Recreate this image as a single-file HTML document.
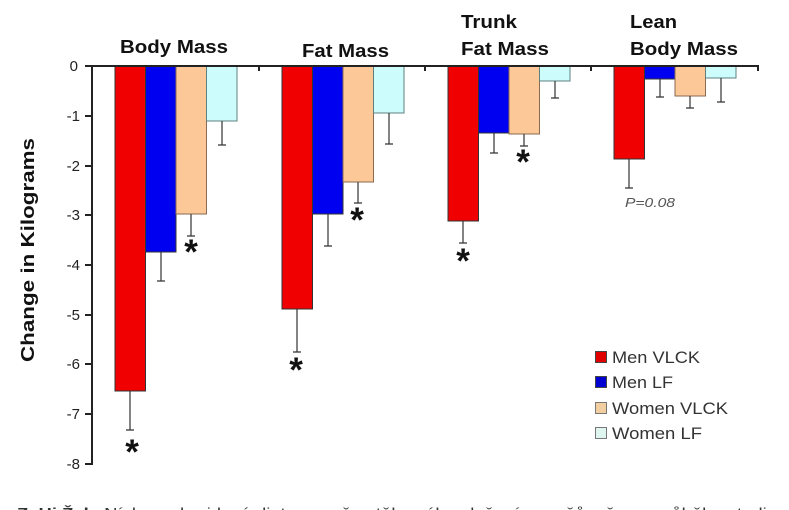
<!DOCTYPE html>
<html><head><meta charset="utf-8"><style>
html,body{margin:0;padding:0;background:#fff;}
svg{display:block;}
text{font-family:"Liberation Sans","DejaVu Sans",sans-serif;}
</style></head><body>
<svg width="789" height="510" viewBox="0 0 789 510" xmlns="http://www.w3.org/2000/svg">
<rect width="789" height="510" fill="#fff"/>
<!-- titles -->
<g font-weight="bold" font-size="18" fill="#111">
<text x="120" y="53" textLength="108" lengthAdjust="spacingAndGlyphs">Body Mass</text>
<text x="302" y="57" textLength="87" lengthAdjust="spacingAndGlyphs">Fat Mass</text>
<text x="461" y="28" textLength="56" lengthAdjust="spacingAndGlyphs">Trunk</text>
<text x="461" y="55" textLength="88" lengthAdjust="spacingAndGlyphs">Fat Mass</text>
<text x="630" y="28" textLength="47" lengthAdjust="spacingAndGlyphs">Lean</text>
<text x="630" y="55" textLength="108" lengthAdjust="spacingAndGlyphs">Body Mass</text>
</g>
<!-- y label -->
<text transform="translate(34,250) rotate(-90)" text-anchor="middle" font-weight="bold" font-size="18" fill="#111" textLength="224" lengthAdjust="spacingAndGlyphs">Change in Kilograms</text>
<!-- y ticks labels -->
<g font-size="15" fill="#222" text-anchor="end">
<text x="78" y="71">0</text>
<text x="80" y="121">-1</text>
<text x="80" y="171">-2</text>
<text x="80" y="220">-3</text>
<text x="80" y="270">-4</text>
<text x="80" y="320">-5</text>
<text x="80" y="369">-6</text>
<text x="80" y="419">-7</text>
<text x="80" y="469">-8</text>
</g>
<!-- bars -->
<g stroke="#333" stroke-width="1">
<rect x="115" y="66" width="30.5" height="325" fill="#f00000"/>
<rect x="145.5" y="66" width="30.5" height="186" fill="#0000f0"/>
<rect x="176" y="66" width="30.5" height="148" fill="#fcc898" stroke="#8a6a50"/>
<rect x="206.5" y="66" width="30.5" height="55" fill="#ccfcfc" stroke="#5f8080"/>
<rect x="282" y="66" width="30.5" height="243" fill="#f00000"/>
<rect x="312.5" y="66" width="30.5" height="148" fill="#0000f0"/>
<rect x="343" y="66" width="30.5" height="116" fill="#fcc898" stroke="#8a6a50"/>
<rect x="373.5" y="66" width="30.5" height="47" fill="#ccfcfc" stroke="#5f8080"/>
<rect x="448" y="66" width="30.5" height="155" fill="#f00000"/>
<rect x="478.5" y="66" width="30.5" height="67" fill="#0000f0"/>
<rect x="509" y="66" width="30.5" height="68" fill="#fcc898" stroke="#8a6a50"/>
<rect x="539.5" y="66" width="30.5" height="15" fill="#ccfcfc" stroke="#5f8080"/>
<rect x="614" y="66" width="30.5" height="93" fill="#f00000"/>
<rect x="644.5" y="66" width="30.5" height="13" fill="#0000f0"/>
<rect x="675" y="66" width="30.5" height="30" fill="#fcc898" stroke="#8a6a50"/>
<rect x="705.5" y="66" width="30.5" height="12" fill="#ccfcfc" stroke="#5f8080"/>
</g>
<!-- error bars -->
<g stroke="#333" stroke-width="1.2" fill="none">
<path d="M130 391V430M126 430H134"/>
<path d="M161 252V281M157 281H165"/>
<path d="M191 214V236M187 236H195"/>
<path d="M222 121V145M218 145H226"/>
<path d="M297 309V352M293 352H301"/>
<path d="M328 214V246M324 246H332"/>
<path d="M358 182V203M354 203H362"/>
<path d="M389 113V144M385 144H393"/>
<path d="M463 221V243M459 243H467"/>
<path d="M494 133V153M490 153H498"/>
<path d="M524 134V146M520 146H528"/>
<path d="M555 81V98M551 98H559"/>
<path d="M629 159V188M625 188H633"/>
<path d="M660 79V97M656 97H664"/>
<path d="M690 96V108M686 108H694"/>
<path d="M721 78V102M717 102H725"/>
</g>
<!-- axes -->
<g stroke="#222" stroke-width="2" fill="none">
<path d="M92 66V465"/>
<path d="M91 66H759"/>
<path d="M85 66H92M85 116H92M85 166H92M85 215H92M85 265H92M85 315H92M85 364H92M85 414H92M85 464H92"/>
<path d="M259 66V71M425 66V71M591 66V71M758 66V71"/>
</g>
<!-- asterisks -->
<g font-weight="bold" font-size="35" fill="#111" text-anchor="middle">
<text x="132" y="464">*</text>
<text x="191" y="264">*</text>
<text x="296" y="382">*</text>
<text x="357" y="232">*</text>
<text x="463" y="273">*</text>
<text x="523" y="174">*</text>
</g>
<!-- P value -->
<text x="625" y="207" font-size="13" font-style="italic" fill="#555" textLength="50" lengthAdjust="spacingAndGlyphs">P=0.08</text>
<!-- legend -->
<g stroke="#444" stroke-width="1">
<rect x="595.5" y="351.5" width="11" height="11" fill="#e00000"/>
<rect x="595.5" y="376.5" width="11" height="11" fill="#0000d0"/>
<rect x="595.5" y="402.5" width="11" height="11" fill="#f2cfa0" stroke="#777"/>
<rect x="595.5" y="427.5" width="11" height="11" fill="#dff5f0" stroke="#777"/>
</g>
<g font-size="17" fill="#333">
<text x="612" y="363" textLength="88" lengthAdjust="spacingAndGlyphs">Men VLCK</text>
<text x="612" y="388" textLength="61" lengthAdjust="spacingAndGlyphs">Men LF</text>
<text x="612" y="414" textLength="116" lengthAdjust="spacingAndGlyphs">Women VLCK</text>
<text x="612" y="439" textLength="90" lengthAdjust="spacingAndGlyphs">Women LF</text>
</g>
<!-- clipped caption -->
<text x="17" y="517" font-size="13" fill="#333" textLength="760" lengthAdjust="spacingAndGlyphs"><tspan font-weight="bold">Z. Hi Ž. k.</tspan> Nízkosacharidová dieta a změny tělesného složení u mužů a žen v průběhu studie</text>
</svg>
</body></html>
